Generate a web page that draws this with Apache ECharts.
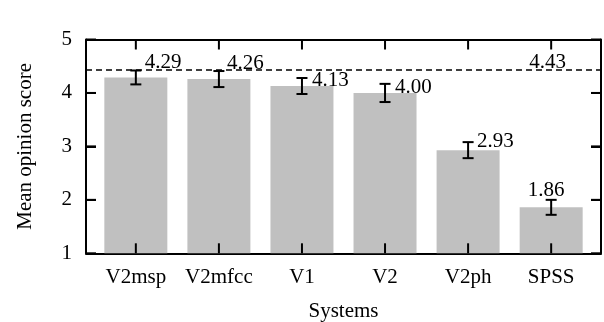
<!DOCTYPE html>
<html>
<head>
<meta charset="utf-8">
<script src="https://cdn.jsdelivr.net/npm/echarts@6/dist/echarts.min.js"></script>
<style>
  html, body { margin: 0; padding: 0; background: #fff; }
  #main { width: 604px; height: 322px; }
</style>
</head>
<body>
<div id="main"></div>
<script>
// systems on the x axis
const systems = ['V2msp', 'V2mfcc', 'V1', 'V2', 'V2ph', 'SPSS'];
// mean opinion scores and the half-length of each error bar
const mos = [4.29, 4.26, 4.13, 4.00, 2.93, 1.86];
const err = [0.13, 0.15, 0.15, 0.17, 0.15, 0.14];
// MOS of natural speech (dashed line)
const naturalMos = 4.43;
const yTicks = [1, 2, 3, 4, 5];

// axis ranges
const X_MIN = -0.6, X_MAX = 5.6, Y_MIN = 1, Y_MAX = 5;

// label placement (pixels, relative to top of error bar)
const labelDx = [9, 8, 10, 10, 9, -5];
const labelDy = [-8, -8, 3, 4, -1, -9];
const labelAlign = ['left', 'left', 'left', 'left', 'left', 'center'];

const FONT = '"Liberation Serif", "Times New Roman", serif';
const FS = 21;
const TICK = 10;

const myChart = echarts.init(document.getElementById('main'));

const xIdx = systems.map((s, i) => i);

function frameAxis() {
  return { show: true, onZero: false, lineStyle: { color: '#000', width: 2 } };
}
function yTick() {
  return { show: true, inside: true, length: TICK, lineStyle: { color: '#000', width: 2 } };
}

function seg(x1, y1, x2, y2, w) {
  return { type: 'line', shape: { x1: x1, y1: y1, x2: x2, y2: y2 }, style: { stroke: '#000', lineWidth: w } };
}

const option = {
  animation: false,
  grid: { left: 86, right: 3, top: 39.5, bottom: 68.7, show: false, outerBoundsMode: 'none' },
  xAxis: [
    {
      type: 'value', min: X_MIN, max: X_MAX,
      name: 'Systems', nameLocation: 'middle', nameGap: 48,
      nameTextStyle: { fontFamily: FONT, fontSize: FS, color: '#000' },
      axisLine: frameAxis(),
      axisTick: { show: false },
      axisLabel: {
        customValues: xIdx, margin: 14,
        formatter: v => systems[Math.round(v)],
        fontFamily: FONT, fontSize: FS, color: '#000'
      },
      splitLine: { show: false }
    },
    {
      type: 'value', min: X_MIN, max: X_MAX, position: 'top',
      axisLine: frameAxis(),
      axisTick: { show: false },
      axisLabel: { show: false },
      splitLine: { show: false }
    }
  ],
  yAxis: [
    {
      type: 'value', min: Y_MIN, max: Y_MAX, interval: 1,
      name: 'Mean opinion score', nameLocation: 'middle', nameGap: 50,
      nameTextStyle: { fontFamily: FONT, fontSize: FS, color: '#000' },
      axisLine: frameAxis(),
      axisTick: yTick(),
      axisLabel: { margin: 14, fontFamily: FONT, fontSize: FS, color: '#000' },
      splitLine: { show: false }
    },
    {
      type: 'value', min: Y_MIN, max: Y_MAX, interval: 1, position: 'right',
      axisLine: frameAxis(),
      axisTick: yTick(),
      axisLabel: { show: false },
      splitLine: { show: false }
    }
  ],
  series: [
    {
      type: 'bar',
      xAxisIndex: 0, yAxisIndex: 0,
      data: mos.map((v, i) => [i, v]),
      barWidth: 63,
      itemStyle: { color: '#c0c0c0' },
      z: 1,
      markLine: {
        silent: true, symbol: 'none',
        lineStyle: { color: '#000', type: [6, 4], width: 1.6 },
        label: { show: false },
        data: [{ yAxis: naturalMos }]
      }
    },
    {
      // error bars, value labels and the inward frame ticks
      type: 'custom',
      xAxisIndex: 0, yAxisIndex: 0,
      z: 5,
      data: mos.map((v, i) => [i, v, err[i]]),
      renderItem: function (params, api) {
        const i = params.dataIndex;
        const x = api.value(0), y = api.value(1), e = api.value(2);
        const top = api.coord([x, y + e]);
        const bot = api.coord([x, y - e]);
        const yBottom = api.coord([x, Y_MIN])[1];
        const yTop = api.coord([x, Y_MAX])[1];
        const cap = 5.5;
        const children = [
          seg(top[0], top[1], bot[0], bot[1], 2),
          seg(top[0] - cap, top[1], top[0] + cap, top[1], 2),
          seg(bot[0] - cap, bot[1], bot[0] + cap, bot[1], 2),
          {
            type: 'text', x: top[0] + labelDx[i], y: top[1] + labelDy[i],
            style: {
              text: y.toFixed(2), fill: '#000', font: FS + 'px ' + FONT,
              textAlign: labelAlign[i], textVerticalAlign: 'middle'
            }
          },
          // x ticks at this system, bottom and top
          seg(top[0], yBottom, top[0], yBottom - TICK, 2),
          seg(top[0], yTop, top[0], yTop + TICK, 2)
        ];
        if (i === 0) {
          yTicks.forEach(function (t) {
            const l = api.coord([X_MIN, t]);
            const r = api.coord([X_MAX, t]);
            children.push(seg(l[0], l[1], l[0] + TICK, l[1], 2));
            children.push(seg(r[0], r[1], r[0] - TICK, r[1], 2));
          });
        }
        return { type: 'group', children: children };
      }
    },
    {
      // label of the natural speech line
      type: 'custom',
      xAxisIndex: 0, yAxisIndex: 0,
      z: 5,
      data: [[5, naturalMos]],
      renderItem: function (params, api) {
        const p = api.coord([api.value(0), api.value(1)]);
        return {
          type: 'text', x: p[0] - 3.5, y: p[1] - 7,
          style: {
            text: api.value(1).toFixed(2), fill: '#000', font: FS + 'px ' + FONT,
            textAlign: 'center', textVerticalAlign: 'middle'
          }
        };
      }
    }
  ]
};

myChart.setOption(option);
window.onresize = myChart.resize;
</script>
</body>
</html>
